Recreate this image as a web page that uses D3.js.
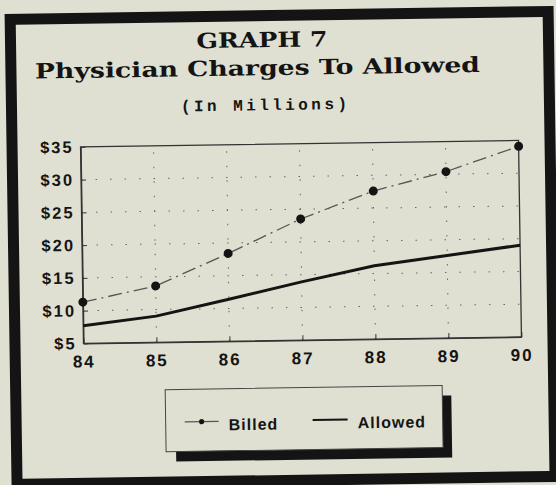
<!DOCTYPE html>
<html>
<head>
<meta charset="utf-8">
<script src="https://cdn.jsdelivr.net/npm/d3@7"></script>
<style>
  html, body { margin: 0; padding: 0; background: #dfe0d2; }
  svg { display: block; }
</style>
</head>
<body>
<svg id="chart" width="556" height="485"></svg>
<script>
// values
const years = [84, 85, 86, 87, 88, 89, 90]
const billed = [11.3, 13.6, 18.4, 23.5, 27.6, 30.4, 34.1]
const allowed = [7.7, 9.0, 11.4, 13.9, 16.2, 17.6, 19.0]
const yTicks = [5, 10, 15, 20, 25, 30, 35]
const legendLabels = ['Billed', 'Allowed']

const W = 556, H = 485
const plot = { left: 82, right: 520, top: 144, bottom: 340.5 }
const ink = '#141414'

const svg = d3.select('#chart')
svg.append('rect').attr('width', W).attr('height', H).attr('fill', '#dfe0d2')

// the scanned page sits a little crooked
const g = svg.append('g').attr('transform', 'rotate(-0.85, 278, 242)')

// outer frame
g.append('rect')
  .attr('x', 13.5).attr('y', 15.5)
  .attr('width', 538).attr('height', 465)
  .attr('fill', 'none')
  .attr('stroke', ink)
  .attr('stroke-width', 11)

// titles
const serif = '"DejaVu Serif", "Liberation Serif", serif'
g.append('text')
  .attr('x', 265).attr('y', 47)
  .attr('text-anchor', 'middle')
  .attr('font-family', serif)
  .attr('font-weight', 'bold')
  .attr('font-size', 21)
  .attr('textLength', 131).attr('lengthAdjust', 'spacingAndGlyphs')
  .attr('fill', ink)
  .text('GRAPH 7')

g.append('text')
  .attr('x', 260).attr('y', 75)
  .attr('text-anchor', 'middle')
  .attr('font-family', serif)
  .attr('font-weight', 'bold')
  .attr('font-size', 21)
  .attr('textLength', 445).attr('lengthAdjust', 'spacingAndGlyphs')
  .attr('fill', ink)
  .text('Physician Charges To Allowed')

g.append('text')
  .attr('x', 266).attr('y', 110)
  .attr('text-anchor', 'middle')
  .attr('font-family', '"Liberation Mono", "DejaVu Sans Mono", monospace')
  .attr('font-weight', 'bold')
  .attr('font-size', 16)
  .attr('textLength', 166).attr('lengthAdjust', 'spacing')
  .attr('fill', ink)
  .text('(In Millions)')

// scales
const x = d3.scaleLinear().domain([84, 90]).range([plot.left, plot.right])
const y = d3.scaleLinear().domain([5, 35]).range([plot.bottom, plot.top])

// dotted grid, very sparse in the original
const grid = g.append('g')
  .attr('stroke', '#666')
  .attr('stroke-width', 1)
  .attr('stroke-dasharray', '1.5,13')
grid.selectAll('line.v').data(years.slice(1, -1)).join('line')
  .attr('class', 'v')
  .attr('x1', d => x(d)).attr('x2', d => x(d))
  .attr('y1', plot.bottom).attr('y2', plot.top)
grid.selectAll('line.h').data(yTicks.slice(1, -1)).join('line')
  .attr('class', 'h')
  .attr('x1', plot.left).attr('x2', plot.right)
  .attr('y1', d => y(d)).attr('y2', d => y(d))

// plot box
g.append('rect')
  .attr('x', plot.left).attr('y', plot.top)
  .attr('width', plot.right - plot.left).attr('height', plot.bottom - plot.top)
  .attr('fill', 'none')
  .attr('stroke', '#333')
  .attr('stroke-width', 1.3)

// axes
const tickFont = '"Liberation Sans", Arial, sans-serif'
const yAxis = g.append('g')
  .attr('transform', `translate(${plot.left},0)`)
  .call(d3.axisLeft(y).tickValues(yTicks).tickFormat(d => '$' + d).tickSizeInner(-5).tickSizeOuter(0).tickPadding(7))
const xAxis = g.append('g')
  .attr('transform', `translate(0,${plot.bottom})`)
  .call(d3.axisBottom(x).tickValues(years).tickFormat(d => d).tickSizeInner(-5).tickSizeOuter(0).tickPadding(12))

for (let ax of [yAxis, xAxis]) {
  ax.select('.domain').attr('stroke', '#333').attr('stroke-width', 1.3)
  ax.selectAll('.tick line').attr('stroke', '#333')
  ax.selectAll('.tick text')
    .attr('font-family', tickFont)
    .attr('font-weight', 'bold')
    .attr('font-size', 17)
    .attr('letter-spacing', 2)
    .attr('fill', ink)
}
yAxis.selectAll('.tick text').attr('font-size', 16.5)

// series
const rows = years.map((yr, i) => ({ yr, billed: billed[i], allowed: allowed[i] }))

g.append('path')
  .datum(rows)
  .attr('fill', 'none')
  .attr('stroke', ink)
  .attr('stroke-width', 3)
  .attr('stroke-linejoin', 'round')
  .attr('d', d3.line().x(d => x(d.yr)).y(d => y(d.allowed)))

g.append('path')
  .datum(rows)
  .attr('fill', 'none')
  .attr('stroke', '#555')
  .attr('stroke-width', 1.3)
  .attr('stroke-dasharray', '14,5,2,5')
  .attr('d', d3.line().x(d => x(d.yr)).y(d => y(d.billed)))

g.selectAll('circle.billed').data(rows).join('circle')
  .attr('class', 'billed')
  .attr('cx', d => x(d.yr)).attr('cy', d => y(d.billed))
  .attr('r', 4.5)
  .attr('fill', ink)

// legend with drop shadow
const lg = g.append('g')
lg.append('path')
  .attr('d', 'M440,398 H449 V460 H173 V450 H440 Z')
  .attr('fill', ink)
lg.append('rect')
  .attr('x', 163).attr('y', 388)
  .attr('width', 277).attr('height', 62)
  .attr('fill', 'none')
  .attr('stroke', '#444')
  .attr('stroke-width', 1)

lg.append('line')
  .attr('x1', 182).attr('x2', 216).attr('y1', 420.5).attr('y2', 420.5)
  .attr('stroke', '#555').attr('stroke-width', 1.2)
lg.append('circle').attr('cx', 199).attr('cy', 420.5).attr('r', 2.6).attr('fill', ink)
lg.append('line')
  .attr('x1', 310).attr('x2', 345).attr('y1', 420.5).attr('y2', 420.5)
  .attr('stroke', ink).attr('stroke-width', 2)

lg.selectAll('text').data(legendLabels).join('text')
  .attr('x', (d, i) => i === 0 ? 226 : 355)
  .attr('y', 429.5)
  .attr('font-family', tickFont)
  .attr('font-weight', 'bold')
  .attr('font-size', 16)
  .attr('letter-spacing', 1)
  .attr('fill', ink)
  .text(d => d)
</script>
</body>
</html>
